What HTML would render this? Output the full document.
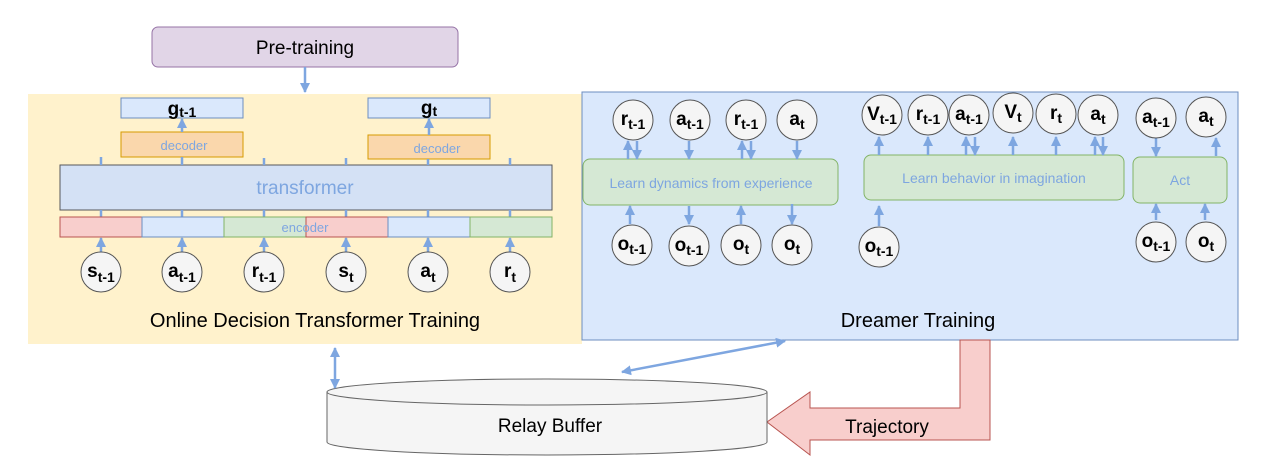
<!DOCTYPE html>
<html><head><meta charset="utf-8"><style>
html,body{margin:0;padding:0;background:#fff;}
svg{display:block;font-family:"Liberation Sans",Arial,sans-serif;}
.c{fill:#f5f5f5;stroke:#555;stroke-width:1;}
.l{font-weight:bold;font-size:19px;fill:#000;text-anchor:middle;}
.a{stroke:#7ea6e0;stroke-width:2.5;fill:none;}
</style></head><body>
<svg width="1286" height="474" viewBox="0 0 1286 474" xmlns="http://www.w3.org/2000/svg">
<defs>
<marker id="m" viewBox="0 0 10 10" refX="9" refY="5" markerWidth="4" markerHeight="4" orient="auto-start-reverse"><path d="M0,0 L10,5 L0,10 z" fill="#7ea6e0"/></marker>
</defs>
<!-- pretraining -->
<rect x="152" y="27" width="306" height="40" rx="6" fill="#e1d5e7" stroke="#9673a6"/>
<text x="305" y="54" font-size="19" text-anchor="middle">Pre-training</text>
<line x1="305" y1="67" x2="305" y2="92" class="a" stroke-width="1.5" marker-end="url(#m)"/>
<!-- yellow -->
<rect x="28" y="94" width="554" height="250" fill="#fff2cc"/>
<!-- blue -->
<rect x="582" y="92" width="656" height="248" fill="#dae8fc" stroke="#6c8ebf"/>

<!-- left: g boxes -->
<rect x="121" y="98" width="122" height="20" fill="#dae8fc" stroke="#6c8ebf"/>
<text x="182" y="115" class="l" font-size="17">g<tspan font-size="14" dy="2">t-1</tspan></text>
<rect x="368" y="98" width="122" height="20" fill="#dae8fc" stroke="#6c8ebf"/>
<text x="429" y="114" class="l" font-size="17">g<tspan font-size="14" dy="2">t</tspan></text>
<rect x="121" y="132" width="122" height="25" fill="#fad7ac" stroke="#d79b00"/>
<text x="184" y="150" font-size="13" fill="#7ea6e0" text-anchor="middle">decoder</text>
<rect x="368" y="135" width="122" height="24" fill="#fad7ac" stroke="#d79b00"/>
<text x="437" y="153" font-size="13" fill="#7ea6e0" text-anchor="middle">decoder</text>
<line x1="182" y1="132" x2="182" y2="119" class="a" stroke-width="2" marker-end="url(#m)"/>
<line x1="429" y1="135" x2="429" y2="119" class="a" stroke-width="2" marker-end="url(#m)"/>
<rect x="60" y="165" width="492" height="45" fill="#d4e1f5" stroke="#56575a"/>
<text x="305" y="194" font-size="19" fill="#7ea6e0" text-anchor="middle">transformer</text>
<g class="a" stroke-width="2">
<line x1="101" y1="157" x2="101" y2="165"/><line x1="182" y1="157" x2="182" y2="165"/><line x1="264" y1="158" x2="264" y2="165"/><line x1="346" y1="158" x2="346" y2="165"/><line x1="428" y1="159" x2="428" y2="165"/><line x1="510" y1="158" x2="510" y2="165"/>
<line x1="101" y1="210" x2="101" y2="217"/><line x1="182" y1="210" x2="182" y2="217"/><line x1="264" y1="210" x2="264" y2="217"/><line x1="346" y1="210" x2="346" y2="217"/><line x1="428" y1="210" x2="428" y2="217"/><line x1="510" y1="210" x2="510" y2="217"/>
</g>
<rect x="60" y="217" width="82" height="20" fill="#f8cecc" stroke="#b85450"/>
<rect x="142" y="217" width="82" height="20" fill="#dae8fc" stroke="#6c8ebf"/>
<rect x="224" y="217" width="82" height="20" fill="#d5e8d4" stroke="#82b366"/>
<rect x="306" y="217" width="82" height="20" fill="#f8cecc" stroke="#b85450"/>
<rect x="388" y="217" width="82" height="20" fill="#dae8fc" stroke="#6c8ebf"/>
<rect x="470" y="217" width="82" height="20" fill="#d5e8d4" stroke="#82b366"/>
<text x="305" y="232" font-size="13" fill="#7ea6e0" text-anchor="middle">encoder</text>
<g class="a" stroke-width="2" marker-end="url(#m)">
<line x1="101" y1="252" x2="101" y2="238"/><line x1="182" y1="252" x2="182" y2="238"/><line x1="264" y1="252" x2="264" y2="238"/><line x1="346" y1="252" x2="346" y2="238"/><line x1="428" y1="252" x2="428" y2="238"/><line x1="510" y1="252" x2="510" y2="238"/>
</g>
<g>
<circle class="c" cx="101" cy="272" r="20"/><text x="101" y="277" class="l">s<tspan font-size="14" dy="5">t-1</tspan></text>
<circle class="c" cx="182" cy="272" r="20"/><text x="182" y="277" class="l">a<tspan font-size="14" dy="5">t-1</tspan></text>
<circle class="c" cx="264" cy="272" r="20"/><text x="264" y="277" class="l">r<tspan font-size="14" dy="5">t-1</tspan></text>
<circle class="c" cx="346" cy="272" r="20"/><text x="346" y="277" class="l">s<tspan font-size="14" dy="5">t</tspan></text>
<circle class="c" cx="428" cy="272" r="20"/><text x="428" y="277" class="l">a<tspan font-size="14" dy="5">t</tspan></text>
<circle class="c" cx="510" cy="272" r="20"/><text x="510" y="277" class="l">r<tspan font-size="14" dy="5">t</tspan></text>
</g>
<text x="315" y="327" font-size="20" text-anchor="middle">Online Decision Transformer Training</text>

<!-- right: dynamics -->
<rect x="583" y="159" width="255" height="46" rx="7" fill="#d5e8d4" stroke="#82b366"/>
<text x="711" y="188" font-size="14" fill="#7ea6e0" text-anchor="middle">Learn dynamics from experience</text>
<rect x="864" y="155" width="260" height="45" rx="7" fill="#d5e8d4" stroke="#82b366"/>
<text x="994" y="183" font-size="14" fill="#7ea6e0" text-anchor="middle">Learn behavior in imagination</text>
<rect x="1133" y="157" width="94" height="46" rx="7" fill="#d5e8d4" stroke="#82b366"/>
<text x="1180" y="185" font-size="14" fill="#7ea6e0" text-anchor="middle">Act</text>

<g class="a" stroke-width="2.5" marker-end="url(#m)">
<line x1="628" y1="159" x2="628" y2="141"/><line x1="637" y1="141" x2="637" y2="159"/>
<line x1="689" y1="141" x2="689" y2="159"/>
<line x1="742" y1="159" x2="742" y2="141"/><line x1="751" y1="141" x2="751" y2="159"/>
<line x1="797" y1="141" x2="797" y2="159"/>
<line x1="630" y1="224" x2="630" y2="206"/>
<line x1="689" y1="206" x2="689" y2="224"/>
<line x1="741" y1="224" x2="741" y2="206"/>
<line x1="792" y1="204" x2="792" y2="224"/>
<line x1="879" y1="155" x2="879" y2="137"/>
<line x1="928" y1="155" x2="928" y2="137"/>
<line x1="966" y1="155" x2="966" y2="137"/><line x1="975" y1="137" x2="975" y2="155"/>
<line x1="1013" y1="155" x2="1013" y2="137"/>
<line x1="1056" y1="155" x2="1056" y2="137"/>
<line x1="1095" y1="155" x2="1095" y2="137"/><line x1="1103" y1="137" x2="1103" y2="155"/>
<line x1="879" y1="226" x2="879" y2="206"/>
<line x1="1156" y1="138" x2="1156" y2="156"/>
<line x1="1216" y1="156" x2="1216" y2="138"/>
<line x1="1156" y1="220" x2="1156" y2="204"/>
<line x1="1205" y1="220" x2="1205" y2="204"/>
</g>
<g>
<circle class="c" cx="633" cy="120" r="20"/><text x="633" y="125" class="l">r<tspan font-size="14" dy="4">t-1</tspan></text>
<circle class="c" cx="690" cy="120" r="20"/><text x="690" y="125" class="l">a<tspan font-size="14" dy="4">t-1</tspan></text>
<circle class="c" cx="746" cy="120" r="20"/><text x="746" y="125" class="l">r<tspan font-size="14" dy="4">t-1</tspan></text>
<circle class="c" cx="797" cy="120" r="20"/><text x="797" y="125" class="l">a<tspan font-size="14" dy="4">t</tspan></text>
<circle class="c" cx="632" cy="245" r="20"/><text x="632" y="250" class="l">o<tspan font-size="14" dy="4">t-1</tspan></text>
<circle class="c" cx="689" cy="246" r="20"/><text x="689" y="251" class="l">o<tspan font-size="14" dy="4">t-1</tspan></text>
<circle class="c" cx="741" cy="245" r="20"/><text x="741" y="250" class="l">o<tspan font-size="14" dy="4">t</tspan></text>
<circle class="c" cx="792" cy="245" r="20"/><text x="792" y="250" class="l">o<tspan font-size="14" dy="4">t</tspan></text>

<circle class="c" cx="882" cy="115" r="20"/><text x="882" y="120" class="l">V<tspan font-size="14" dy="4">t-1</tspan></text>
<circle class="c" cx="928" cy="115" r="20"/><text x="928" y="120" class="l">r<tspan font-size="14" dy="4">t-1</tspan></text>
<circle class="c" cx="969" cy="115" r="20"/><text x="969" y="120" class="l">a<tspan font-size="14" dy="4">t-1</tspan></text>
<circle class="c" cx="1013" cy="113" r="20"/><text x="1013" y="118" class="l">V<tspan font-size="14" dy="4">t</tspan></text>
<circle class="c" cx="1056" cy="114" r="20"/><text x="1056" y="119" class="l">r<tspan font-size="14" dy="4">t</tspan></text>
<circle class="c" cx="1098" cy="115" r="20"/><text x="1098" y="120" class="l">a<tspan font-size="14" dy="4">t</tspan></text>
<circle class="c" cx="879" cy="247" r="20"/><text x="879" y="252" class="l">o<tspan font-size="14" dy="4">t-1</tspan></text>

<circle class="c" cx="1156" cy="118" r="20"/><text x="1156" y="123" class="l">a<tspan font-size="14" dy="4">t-1</tspan></text>
<circle class="c" cx="1206" cy="117" r="20"/><text x="1206" y="122" class="l">a<tspan font-size="14" dy="4">t</tspan></text>
<circle class="c" cx="1156" cy="242" r="20"/><text x="1156" y="247" class="l">o<tspan font-size="14" dy="4">t-1</tspan></text>
<circle class="c" cx="1206" cy="242" r="20"/><text x="1206" y="247" class="l">o<tspan font-size="14" dy="4">t</tspan></text>
</g>
<text x="918" y="327" font-size="20" text-anchor="middle">Dreamer Training</text>

<!-- trajectory arrow -->
<path d="M960,340 L990,340 L990,440 L810,440 L810,455 L767,422 L810,392 L810,408 L960,408 Z" fill="#f8cecc" stroke="#b85450"/>
<text x="887" y="433" font-size="19" text-anchor="middle">Trajectory</text>

<!-- cylinder -->
<path d="M327,392 L327,442 A220,13 0 0 0 767,442 L767,392" fill="#f5f5f5" stroke="#666"/>
<ellipse cx="547" cy="392" rx="220" ry="13" fill="#f5f5f5" stroke="#666"/>
<text x="550" y="432" font-size="19" text-anchor="middle">Relay Buffer</text>

<line x1="335" y1="348" x2="335" y2="388" class="a" stroke-width="1.5" marker-start="url(#m)" marker-end="url(#m)"/>
<line x1="785" y1="341" x2="622" y2="372" class="a" stroke-width="1.5" marker-start="url(#m)" marker-end="url(#m)"/>
</svg>
</body></html>
